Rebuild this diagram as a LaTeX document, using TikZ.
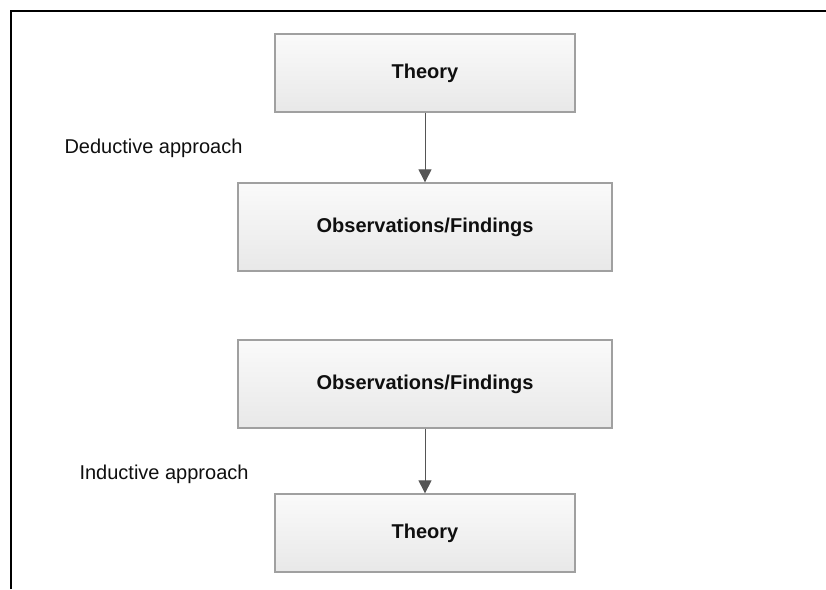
\documentclass[tikz,border=0pt]{standalone}
\usepackage{fontspec}
\setmainfont{Liberation Sans}
\usetikzlibrary{arrows.meta}
\definecolor{boxline}{RGB}{160,160,160}
\definecolor{boxtop}{RGB}{250,250,250}
\definecolor{boxbot}{RGB}{232,232,232}
\definecolor{ink}{RGB}{15,15,15}
\definecolor{arrink}{RGB}{85,85,85}

\begin{document}
\begin{tikzpicture}[x=1pt, y=-1pt,
    stage/.style={rectangle, draw=boxline, line width=1.3pt,
              top color=boxtop, bottom color=boxbot, inner sep=0pt,
              font=\fontsize{20}{24}\selectfont\bfseries, text=ink},
    wide/.style={stage, minimum width=374pt, minimum height=88pt},
    narrow/.style={stage, minimum width=300pt, minimum height=78pt},
    lab/.style={font=\fontsize{20}{24}\selectfont, text=ink, anchor=base west},
    arr/.style={-{Triangle[length=13pt, width=13pt]}, draw=arrink, line width=1pt}]
  \useasboundingbox (0,0) rectangle (826,589);
  \def\cx{425}

  % ---------- frame ---------------------------------------------------------
  \draw[black, line width=2pt] (11,589) -- (11,11) -- (826,11);

  % ---------- (1) deductive: theory first -----------------------------------
  \node[narrow] (thA) at (\cx,73) {Theory};
  \node[wide] (obA) at (\cx,227) {Observations/Findings};
  \draw[arr] (thA) -- (obA);
  \node[lab] (dedLab) at (61,153) {Deductive approach};

  % ---------- (2) inductive: observations first -----------------------------
  \node[wide] (obB) at (\cx,384) {Observations/Findings};
  \node[narrow] (thB) at (\cx,533) {Theory};
  \draw[arr] (obB) -- (thB);
  \node[lab] (indLab) at (76,479) {Inductive approach};
\end{tikzpicture}
\end{document}
